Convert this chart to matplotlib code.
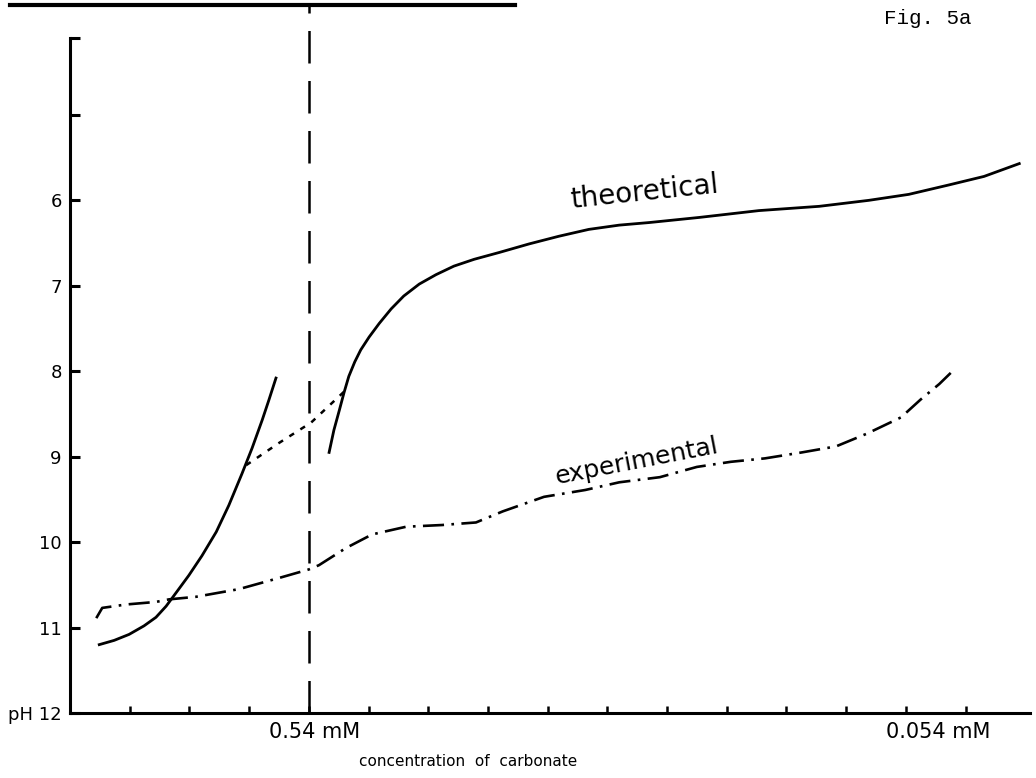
import matplotlib
matplotlib.use("Agg")
import matplotlib.pyplot as plt
from matplotlib.lines import Line2D

# x = tick index along the concentration axis, y = pH (axis runs downward)
theo_left_x = [0.49, 0.74, 0.99, 1.24, 1.44, 1.61, 1.79, 1.99, 2.21, 2.45,
               2.66, 2.88, 3.05, 3.22, 3.33, 3.45]
theo_left_ph = [11.20, 11.15, 11.08, 10.98, 10.88, 10.75, 10.58, 10.39, 10.16, 9.88,
                9.57, 9.20, 8.90, 8.57, 8.34, 8.08]

bridge_x = [2.95, 3.50, 4.04, 4.62]
bridge_ph = [9.10, 8.84, 8.60, 8.22]

theo_right_x = [4.34, 4.42, 4.51, 4.59, 4.67, 4.77, 4.87, 5.01, 5.18, 5.38,
                5.59, 5.85, 6.13, 6.43, 6.77, 7.19, 7.69, 8.19, 8.69, 9.20,
                9.70, 10.54, 11.54, 12.55, 13.38, 14.05, 14.72, 15.31, 15.90]
theo_right_ph = [8.95, 8.69, 8.46, 8.25, 8.06, 7.89, 7.75, 7.60, 7.44, 7.27,
                 7.12, 6.98, 6.87, 6.77, 6.69, 6.61, 6.51, 6.42, 6.34, 6.29,
                 6.26, 6.20, 6.12, 6.07, 6.00, 5.93, 5.82, 5.72, 5.57]

exp_x = [0.44, 0.54, 0.94, 1.44, 1.66, 2.11, 2.83, 3.50, 4.00, 4.17, 4.62, 5.06,
         5.63, 6.23, 6.80, 7.25, 7.94, 8.63, 9.20, 9.88, 10.50, 11.07, 11.64,
         12.26, 12.83, 13.35, 13.92, 14.25, 14.56, 14.84]
exp_ph = [10.89, 10.77, 10.73, 10.70, 10.67, 10.64, 10.55, 10.42, 10.32, 10.27,
          10.07, 9.91, 9.82, 9.80, 9.77, 9.64, 9.47, 9.39, 9.30, 9.24, 9.12,
          9.06, 9.02, 8.95, 8.88, 8.73, 8.54, 8.33, 8.15, 7.96]

ph_ticks = [5, 6, 7, 8, 9, 10, 11, 12]
ph_labels = ["", "6", "7", "8", "9", "10", "11", "pH 12"]
conc_ticks = list(range(1, 16))
conc_label_pos = [4.1, 14.55]
conc_label_txt = ["0.54 mM", "0.054 mM"]

W, H = 1036, 778
fig = plt.figure(figsize=(W / 100, H / 100), dpi=100)
ax = fig.add_axes([70 / W, 65 / H, 960 / W, 675 / H])
ax.set_xlim(0, 16.08)
ax.set_ylim(12, 4.1)

ink = "black"
ax.plot(theo_left_x, theo_left_ph, color=ink, lw=2.0)
ax.plot(theo_right_x, theo_right_ph, color=ink, lw=2.0)
ax.plot(bridge_x, bridge_ph, color=ink, lw=1.8, linestyle=(0, (2.2, 3.0)))
ax.plot(exp_x, exp_ph, color=ink, lw=1.9, linestyle=(0, (8, 2.8, 1, 2.8)))
ax.axvline(4, ymin=0, ymax=1.05, color=ink, lw=1.8, linestyle=(0, (13, 7)), clip_on=False)

for s in ["top", "right"]:
    ax.spines[s].set_visible(False)
ax.spines["left"].set_linewidth(2.2)
ax.spines["bottom"].set_linewidth(2.2)

ax.set_yticks(ph_ticks + [4.1])
ax.set_yticklabels(ph_labels + [""], fontsize=13)
ax.tick_params(axis="y", direction="in", length=7, width=2.2, pad=6)
ax.set_xticks(conc_ticks)
ax.set_xticklabels([""] * len(conc_ticks))
ax.tick_params(axis="x", direction="in", length=5, width=1.8)

for pos, lab in zip(conc_label_pos, conc_label_txt):
    ax.text(pos, 12.1, lab, ha="center", va="top", fontsize=15)

fig.text(468 / W, 1 - 762 / H, "concentration  of  carbonate", ha="center", va="center", fontsize=11)
ax.text(9.62, 5.9, "theoretical", rotation=6, ha="center", va="center", fontsize=20)
ax.text(9.5, 9.05, "experimental", rotation=11, ha="center", va="center", fontsize=18)

fig.text(928 / W, 1 - 18 / H, "Fig. 5a", ha="center", va="center", fontsize=15, family="Liberation Mono")
fig.add_artist(Line2D([10 / W, 515 / W], [1 - 5 / H, 1 - 5 / H], color=ink, lw=3))

fig.savefig("out.png", dpi=100)
